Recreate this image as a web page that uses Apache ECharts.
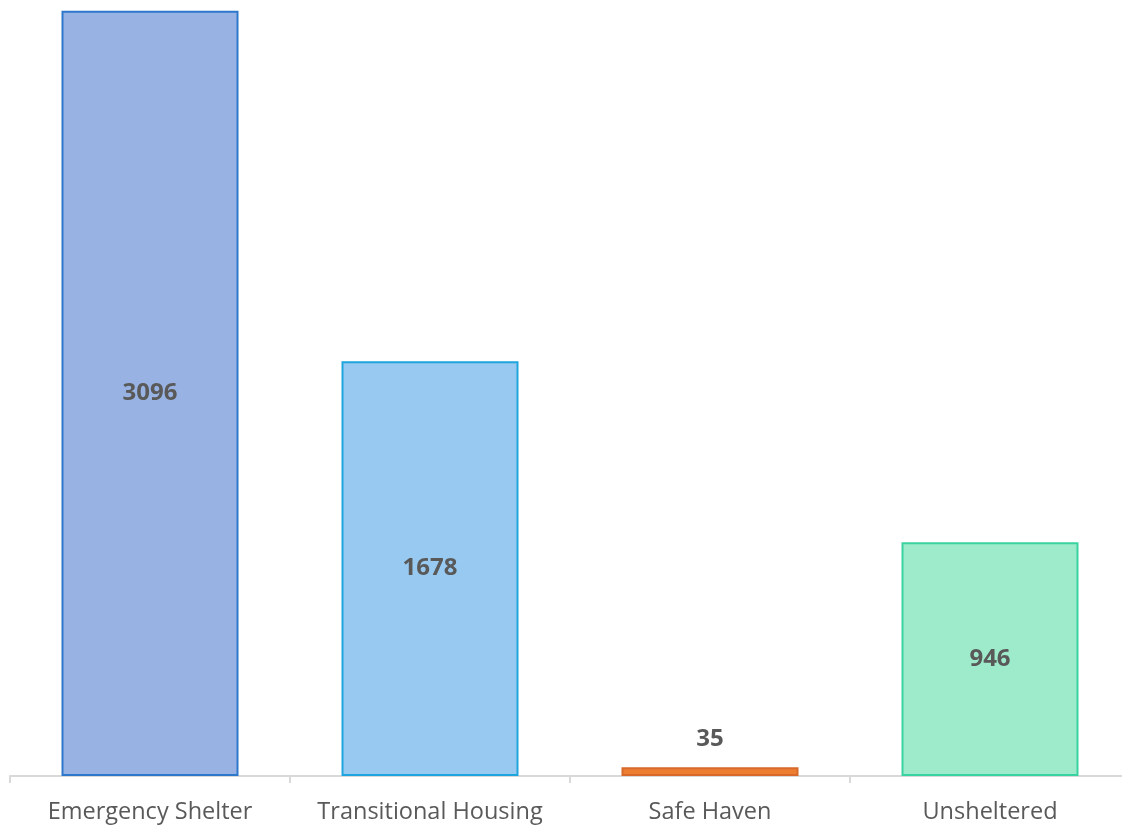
<!DOCTYPE html>
<html>
<head>
<meta charset="utf-8">
<script src="https://cdn.jsdelivr.net/npm/echarts@6/dist/echarts.min.js"></script>
<style>
  html, body { margin: 0; padding: 0; background: #ffffff; overflow: hidden; }
  /* canvas runs a little past the right edge so the last category is clipped */
  #chart { width: 1134px; height: 827px; }
</style>
</head>
<body>
<div id="chart"></div>
<script>
// Point-in-time count by shelter situation
const categories = ['Emergency Shelter', 'Transitional Housing', 'Safe Haven', 'Unsheltered'];
const counts = [3096, 1678, 35, 946];
const fillColors = ['#98B3E3', '#97C9F1', '#ED7D31', '#9DEBCB'];
const borderColors = ['#2E78CC', '#1EA5DE', '#D8692A', '#38D3A0'];
const labelInside = [true, true, false, true];

const chart = echarts.init(document.getElementById('chart'));

const barData = counts.map((v, i) => ({
  value: v,
  itemStyle: { color: fillColors[i], borderColor: borderColors[i], borderWidth: 2 },
  label: {
    position: labelInside[i] ? 'inside' : 'top',
    distance: 16
  }
}));

chart.setOption({
  animation: false,
  grid: { left: 10, width: 1120, top: 0, height: 776, containLabel: false },
  xAxis: {
    type: 'category',
    data: categories,
    axisLine: { show: true, lineStyle: { color: '#d9d9d9', width: 2 } },
    axisTick: { show: true, length: 7, lineStyle: { color: '#d9d9d9', width: 2 } },
    axisLabel: {
      interval: 0,
      color: '#595959',
      fontSize: 23.5,
      fontFamily: 'Open Sans, Liberation Sans, sans-serif',
      margin: 24
    }
  },
  yAxis: {
    type: 'value',
    min: 0,
    max: 3140,
    show: false,
    splitLine: { show: false }
  },
  series: [{
    type: 'bar',
    data: barData,
    barWidth: 177,
    label: {
      show: true,
      color: '#595959',
      fontSize: 24,
      fontWeight: 'bold',
      fontFamily: 'Open Sans, Liberation Sans, sans-serif'
    }
  }]
});
</script>
</body>
</html>
